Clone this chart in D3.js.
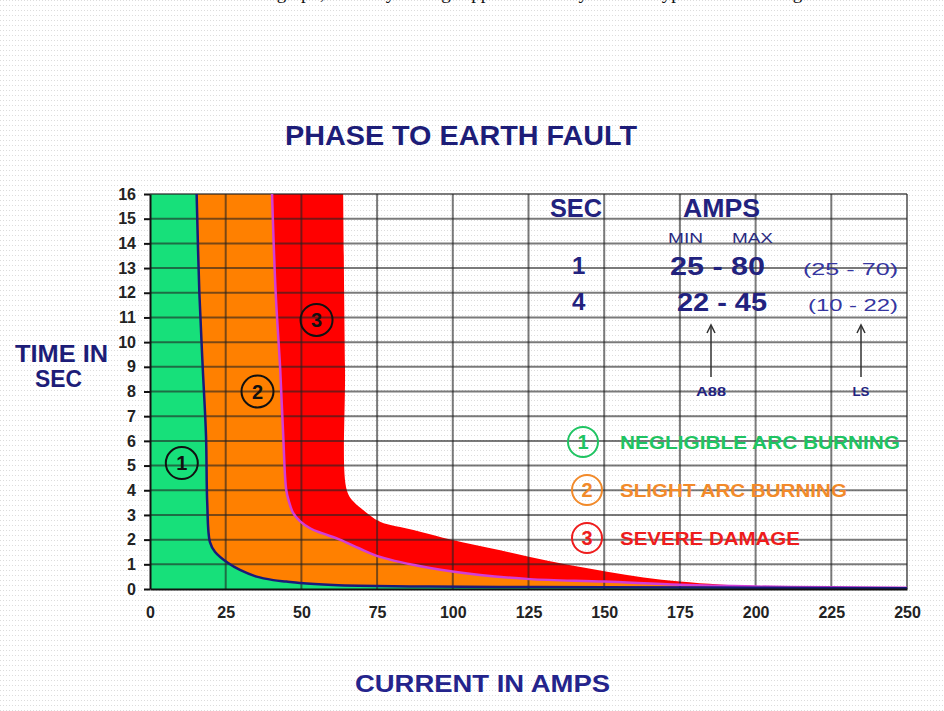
<!DOCTYPE html>
<html>
<head>
<meta charset="utf-8">
<script src="https://cdn.jsdelivr.net/npm/d3@7"></script>
<style>
  body { margin: 0; background: #fff; }
  svg { display: block; }
  text { font-family: "Liberation Sans", Arial, sans-serif; font-weight: bold; }
</style>
</head>
<body>
<svg id="chart" width="944" height="711"></svg>
<script>
// curve points, [amps, sec], from top of chart down to 250 A
var negligibleEdge = [[15.4,16],[16.3,12],[17.4,9],[18.5,6.2],[18.9,3.5],[19.8,1.9],[21.5,1.5],[25.8,1.05],
    [29.7,0.77],[35.2,0.5],[40.7,0.36],[45,0.3],[49.5,0.24],[60.5,0.16],[69,0.13],[92,0.1],[120,0.08],
    [150,0.07],[200,0.05],[250,0.03]];
var slightEdge = [[40.3,16],[41.5,12],[43,8.9],[44,6.2],[45,4],[46,3.5],[47.3,3.07],[49.5,2.75],[53,2.45],
    [57,2.25],[62.7,2],[69,1.65],[76,1.3],[92.5,0.85],[109,0.57],[125.5,0.4],[150,0.3],[175,0.17],
    [200,0.1],[225,0.07],[250,0.05]];
var severeEdge = [[63.8,16],[64.4,9],[65,4],[67.5,3.5],[70.4,3.2],[76,2.72],[87,2.39],[100,1.98],
    [112.5,1.65],[125.5,1.3],[138,0.98],[151,0.7],[163,0.47],[175,0.3],[188,0.18],[200,0.12],
    [225,0.08],[250,0.05]];

var xTicks = [0,25,50,75,100,125,150,175,200,225,250];
var yTicks = [0,1,2,3,4,5,6,7,8,9,10,11,12,13,14,15,16];

var zoneLabels = ["1","2","3"];
var zonePos = [[10.5,5.1],[35.5,8],[55,10.9]];   // [amps, sec] of circled numbers
var legendNames = ["NEGLIGIBLE ARC BURNING","SLIGHT ARC BURNING","SEVERE DAMAGE"];
var legendColors = ["#1fc462","#f28a2a","#ee1c1c"];

var tableRows = [["1","25 - 80","(25 - 70)"],["4","22 - 45","(10 - 22)"]];

var svg = d3.select("#chart");

// dotted page background
var defs = svg.append("defs");
var pat = defs.append("pattern").attr("id","dots").attr("width",3).attr("height",5)
    .attr("patternUnits","userSpaceOnUse");
pat.append("rect").attr("width",3).attr("height",5).attr("fill","#fff");
pat.append("rect").attr("width",1).attr("height",1).attr("fill","#dcdcdc");
svg.append("rect").attr("width",944).attr("height",711).attr("fill","url(#dots)");

// cut off line of the surrounding document (only descenders show, as in the source)
svg.append("text").attr("x",150).attr("y",-1)
    .style("font-family","'Liberation Serif', serif").style("font-weight","normal")
    .style("font-size","19px").attr("fill","#111")
    .text("as shown on the graph, the relay settings applied to the system are typical for earthing");

var x = d3.scaleLinear().domain([0,250]).range([150,907]);
var y = d3.scaleLinear().domain([0,16]).range([589,194]);

var ln = d3.line().x(function(d){ return x(d[0]); }).y(function(d){ return y(d[1]); })
    .curve(d3.curveCatmullRom.alpha(0.5));

function band(upper, lower) {
    return ln(upper) + "L" + ln(lower.slice().reverse()).slice(1) + "Z";
}

var g = svg.append("g");

// zone fills
g.append("path")
    .attr("d", ln(negligibleEdge) + "L" + x(250) + "," + y(0) + "L" + x(0) + "," + y(0) + "L" + x(0) + "," + y(16) + "Z")
    .attr("fill","#17e07a");
g.append("path").attr("d", band(slightEdge, negligibleEdge)).attr("fill","#ff8000");
g.append("path").attr("d", band(severeEdge, slightEdge)).attr("fill","#ff0000");

// grid
g.selectAll(".vgrid").data(xTicks.slice(1)).enter().append("line")
    .attr("class","vgrid")
    .attr("x1",function(d){ return x(d); }).attr("x2",function(d){ return x(d); })
    .attr("y1",y(0)).attr("y2",y(16))
    .attr("stroke","#222").attr("stroke-opacity",0.6).attr("stroke-width",2);
g.selectAll(".hgrid").data(yTicks.slice(1)).enter().append("line")
    .attr("class","hgrid")
    .attr("x1",x(0)).attr("x2",x(250))
    .attr("y1",function(d){ return y(d); }).attr("y2",function(d){ return y(d); })
    .attr("stroke","#222").attr("stroke-opacity",0.6).attr("stroke-width",2);

// boundary lines
g.append("path").attr("d", ln(slightEdge)).attr("fill","none")
    .attr("stroke","#d23ed8").attr("stroke-width",2.5);
g.append("path").attr("d", ln(negligibleEdge)).attr("fill","none")
    .attr("stroke","#1a1a7a").attr("stroke-width",2.5);

// axes
var yAxis = d3.axisLeft(y).tickValues(yTicks).tickSize(6).tickSizeOuter(0).tickPadding(8);
var ya = svg.append("g").attr("transform","translate(" + x(0) + ",0)").call(yAxis);
ya.select(".domain").attr("stroke","#111").attr("stroke-width",2);
ya.selectAll(".tick line").attr("stroke","#111").attr("stroke-width",2);
ya.selectAll(".tick text").style("font-size","16px").attr("fill","#222")
    .style("font-family","'Liberation Sans', Arial, sans-serif");

var xAxis = d3.axisBottom(x).tickValues(xTicks).tickSize(0).tickSizeOuter(0).tickPadding(18);
var xa = svg.append("g").attr("transform","translate(0," + y(0) + ")").call(xAxis);
xa.select(".domain").attr("stroke","#111").attr("stroke-width",2);
xa.selectAll(".tick text").style("font-size","16px").attr("fill","#222")
    .style("font-family","'Liberation Sans', Arial, sans-serif");

// circled zone numbers
var zn = svg.selectAll(".zone").data(zoneLabels).enter().append("g")
    .attr("transform",function(d,i){ return "translate(" + x(zonePos[i][0]) + "," + y(zonePos[i][1]) + ")"; });
zn.append("circle").attr("r",16).attr("fill","none").attr("stroke","#111").attr("stroke-width",2);
zn.append("text").attr("text-anchor","middle").attr("dy",7).style("font-size","20px")
    .attr("fill","#111").text(function(d){ return d; });

// titles
var navy = "#1d1d78";
svg.append("text").attr("x",285).attr("y",145).attr("textLength",352).attr("lengthAdjust","spacingAndGlyphs")
    .style("font-size","28px").attr("fill",navy).text("PHASE TO EARTH FAULT");
svg.append("text").attr("x",15).attr("y",362).attr("textLength",93).attr("lengthAdjust","spacingAndGlyphs")
    .style("font-size","24px").attr("fill",navy).text("TIME IN");
svg.append("text").attr("x",35).attr("y",387).attr("textLength",47).attr("lengthAdjust","spacingAndGlyphs")
    .style("font-size","24px").attr("fill",navy).text("SEC");
svg.append("text").attr("x",355).attr("y",692).attr("textLength",255).attr("lengthAdjust","spacingAndGlyphs")
    .style("font-size","24px").attr("fill","#24248c").text("CURRENT IN AMPS");

// table
var tcol = "#22227e";
function tx(str, px, py, size, len, weight, col) {
    var t = svg.append("text").attr("x",px).attr("y",py).style("font-size",size + "px")
        .attr("fill",col || tcol).text(str);
    if (len) t.attr("textLength",len).attr("lengthAdjust","spacingAndGlyphs");
    if (weight) t.style("font-weight",weight);
    return t;
}
tx("SEC",550,217,26,52);
tx("AMPS",683,217,26,77);
tx("MIN",668,243,14,35,"normal","#2a2a80");
tx("MAX",732,243,14,41,"normal","#2a2a80");
tableRows.forEach(function(r,i){
    var by = [274,310][i];
    tx(r[0],572,by,24,0);
    tx(r[1],[670,677][i],by + 1,25,[95,90][i]);
    tx(r[2],[803,808][i],by + 1,16,[95,90][i],"normal","#3535a0");
});

// arrows
var arrowX = [711,861], arrowLab = ["A88","LS"], arrowLen = [30,17];
arrowX.forEach(function(ax,i){
    svg.append("line").attr("x1",ax).attr("x2",ax).attr("y1",377).attr("y2",326)
        .attr("stroke","#333").attr("stroke-width",1.5);
    svg.append("path").attr("d","M" + (ax - 4) + ",333L" + ax + ",325L" + (ax + 4) + ",333")
        .attr("fill","none").attr("stroke","#333").attr("stroke-width",1.5);
    svg.append("text").attr("x",ax).attr("y",396).attr("text-anchor","middle")
        .attr("textLength",arrowLen[i]).attr("lengthAdjust","spacingAndGlyphs")
        .style("font-size","12px").attr("fill",tcol).text(arrowLab[i]);
});

// legend
var legY = [442,490,538], legLen = [280,227,180];
legendNames.forEach(function(n,i){
    var c = legendColors[i];
    svg.append("circle").attr("cx",i ? 587 : 583).attr("cy",legY[i]).attr("r",15)
        .attr("fill","none").attr("stroke",c).attr("stroke-width",2);
    svg.append("text").attr("x",i ? 587 : 583).attr("y",legY[i] + 7).attr("text-anchor","middle")
        .style("font-size","20px").attr("fill",c).text(zoneLabels[i]);
    svg.append("text").attr("x",620).attr("y",legY[i] + 7).attr("textLength",legLen[i])
        .attr("lengthAdjust","spacingAndGlyphs").style("font-size","19px").attr("fill",c).text(n);
});
</script>
</body>
</html>
